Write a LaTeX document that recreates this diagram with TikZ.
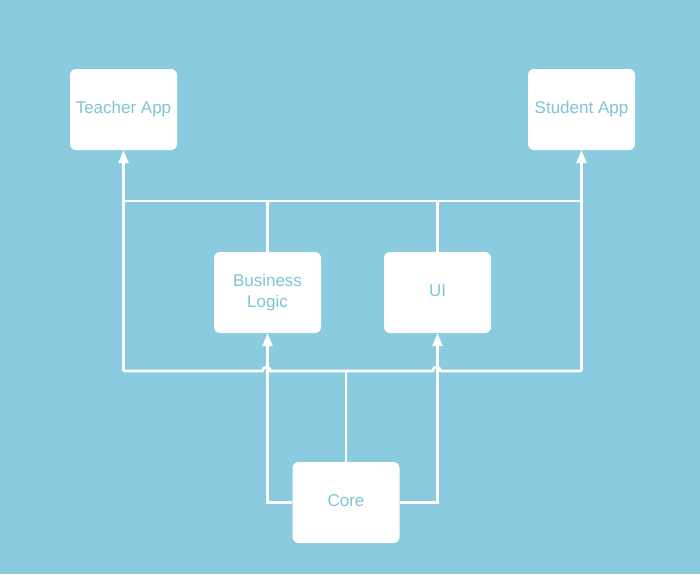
\documentclass[tikz,border=0pt]{standalone}
\usepackage{fontspec}
\setmainfont{Liberation Sans}
\usetikzlibrary{arrows.meta}
\definecolor{bg}{RGB}{138,203,224}
\definecolor{txt}{RGB}{128,196,218}
\begin{document}
\begin{tikzpicture}[x=1pt,y=-1pt,
  box/.style={fill=white,rounded corners=6pt,minimum width=107pt,minimum height=81pt,
    text=txt,font=\fontsize{17}{21}\selectfont,align=center,inner sep=0pt},
  wire/.style={draw=white,line width=2.6pt},
  arr/.style={wire,-{Triangle[length=13pt,width=10pt]}}]
\fill[bg] (0,0) rectangle (700,574);
\useasboundingbox (0,0) rectangle (700,574);
\node[box] (ta) at (123.5,109.5) {Teacher App\vphantom{g}};
\node[box] (sa) at (581.5,109.5) {Student App\vphantom{g}};
\node[box] (bl) at (267.5,292.5) {Business\\Logic};
\node[box] (ui) at (437.5,292.5) {UI\vphantom{g}};
\node[box] (core) at (346,502.5) {Core\vphantom{g}};
\coordinate (up) at (346,201);
\coordinate (low) at (346,371);
% upper bus
\draw[wire] (ta.south |- up) -- (sa.south |- up);
\draw[wire] (bl.north |- up) -- (bl.north);
\draw[wire] (ui.north |- up) -- (ui.north);
% lower bus with hops
\draw[wire] (ta.south |- low) -- ([xshift=-5pt]bl.south |- low)
  arc[start angle=180,end angle=0,radius=4pt] -- ([xshift=-5pt]ui.south |- low)
  arc[start angle=180,end angle=0,radius=4pt] -- (sa.south |- low);
\draw[arr] (ta.south |- low) -- (ta.south);
\draw[arr] (sa.south |- low) -- (sa.south);
\draw[wire] (low) -- (core.north);
\draw[arr] (core.west) -| (bl.south);
\draw[arr] (core.east) -| (ui.south);
\end{tikzpicture}
\end{document}
